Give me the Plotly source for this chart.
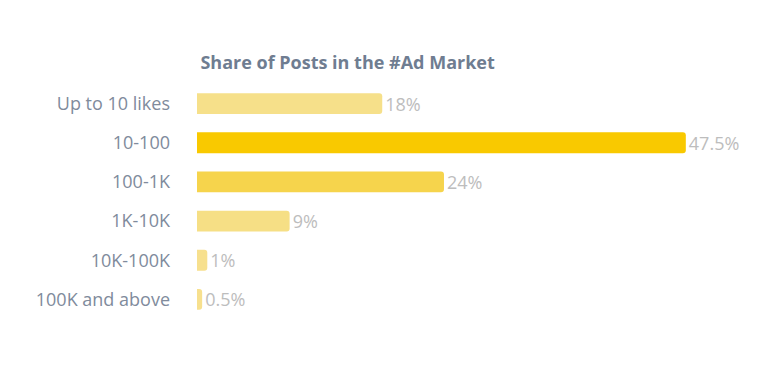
import plotly.graph_objects as go

categories = ["Up to 10 likes", "10-100", "100-1K", "1K-10K", "10K-100K", "100K and above"]
shares = [18, 47.5, 24, 9, 1, 0.5]
value_labels = ["18%", "47.5%", "24%", "9%", "1%", "0.5%"]
bar_colors = ["#f6e08a", "#f9c900", "#f6d44c", "#f6df85", "#f7e08e", "#f7e08e"]
title_text = "Share of Posts in the #Ad Market"

fig = go.Figure(
    go.Bar(
        x=shares,
        y=categories,
        orientation="h",
        marker=dict(color=bar_colors, line=dict(width=0), cornerradius=3),
        text=value_labels,
        textposition="outside",
        textfont=dict(color="#bdbdbd", size=18, family="Open Sans"),
        constraintext="none",
        cliponaxis=False,
        hoverinfo="skip",
    )
)

fig.update_layout(
    width=783,
    height=378,
    margin=dict(l=189, r=28, t=76, b=67),
    paper_bgcolor="white",
    plot_bgcolor="white",
    font=dict(family="Open Sans", color="#7d889a", size=18),
    bargap=0.47,
    showlegend=False,
    title=dict(
        text="<b>" + title_text + "</b>",
        font=dict(family="Open Sans", size=18, color="#6f7d91"),
        xref="paper",
        x=0.006,
        xanchor="left",
        yref="container",
        y=1 - 55 / 378,
        yanchor="middle",
    ),
    xaxis=dict(range=[0, 55], visible=False, showgrid=False, zeroline=False),
    yaxis=dict(
        categoryorder="array",
        categoryarray=categories,
        autorange="reversed",
        showgrid=False,
        zeroline=False,
        showline=False,
        ticks="",
        ticklabelstandoff=26,
        tickfont=dict(family="Open Sans", size=18, color="#808b9c"),
    ),
)

fig.write_html("out.html")
